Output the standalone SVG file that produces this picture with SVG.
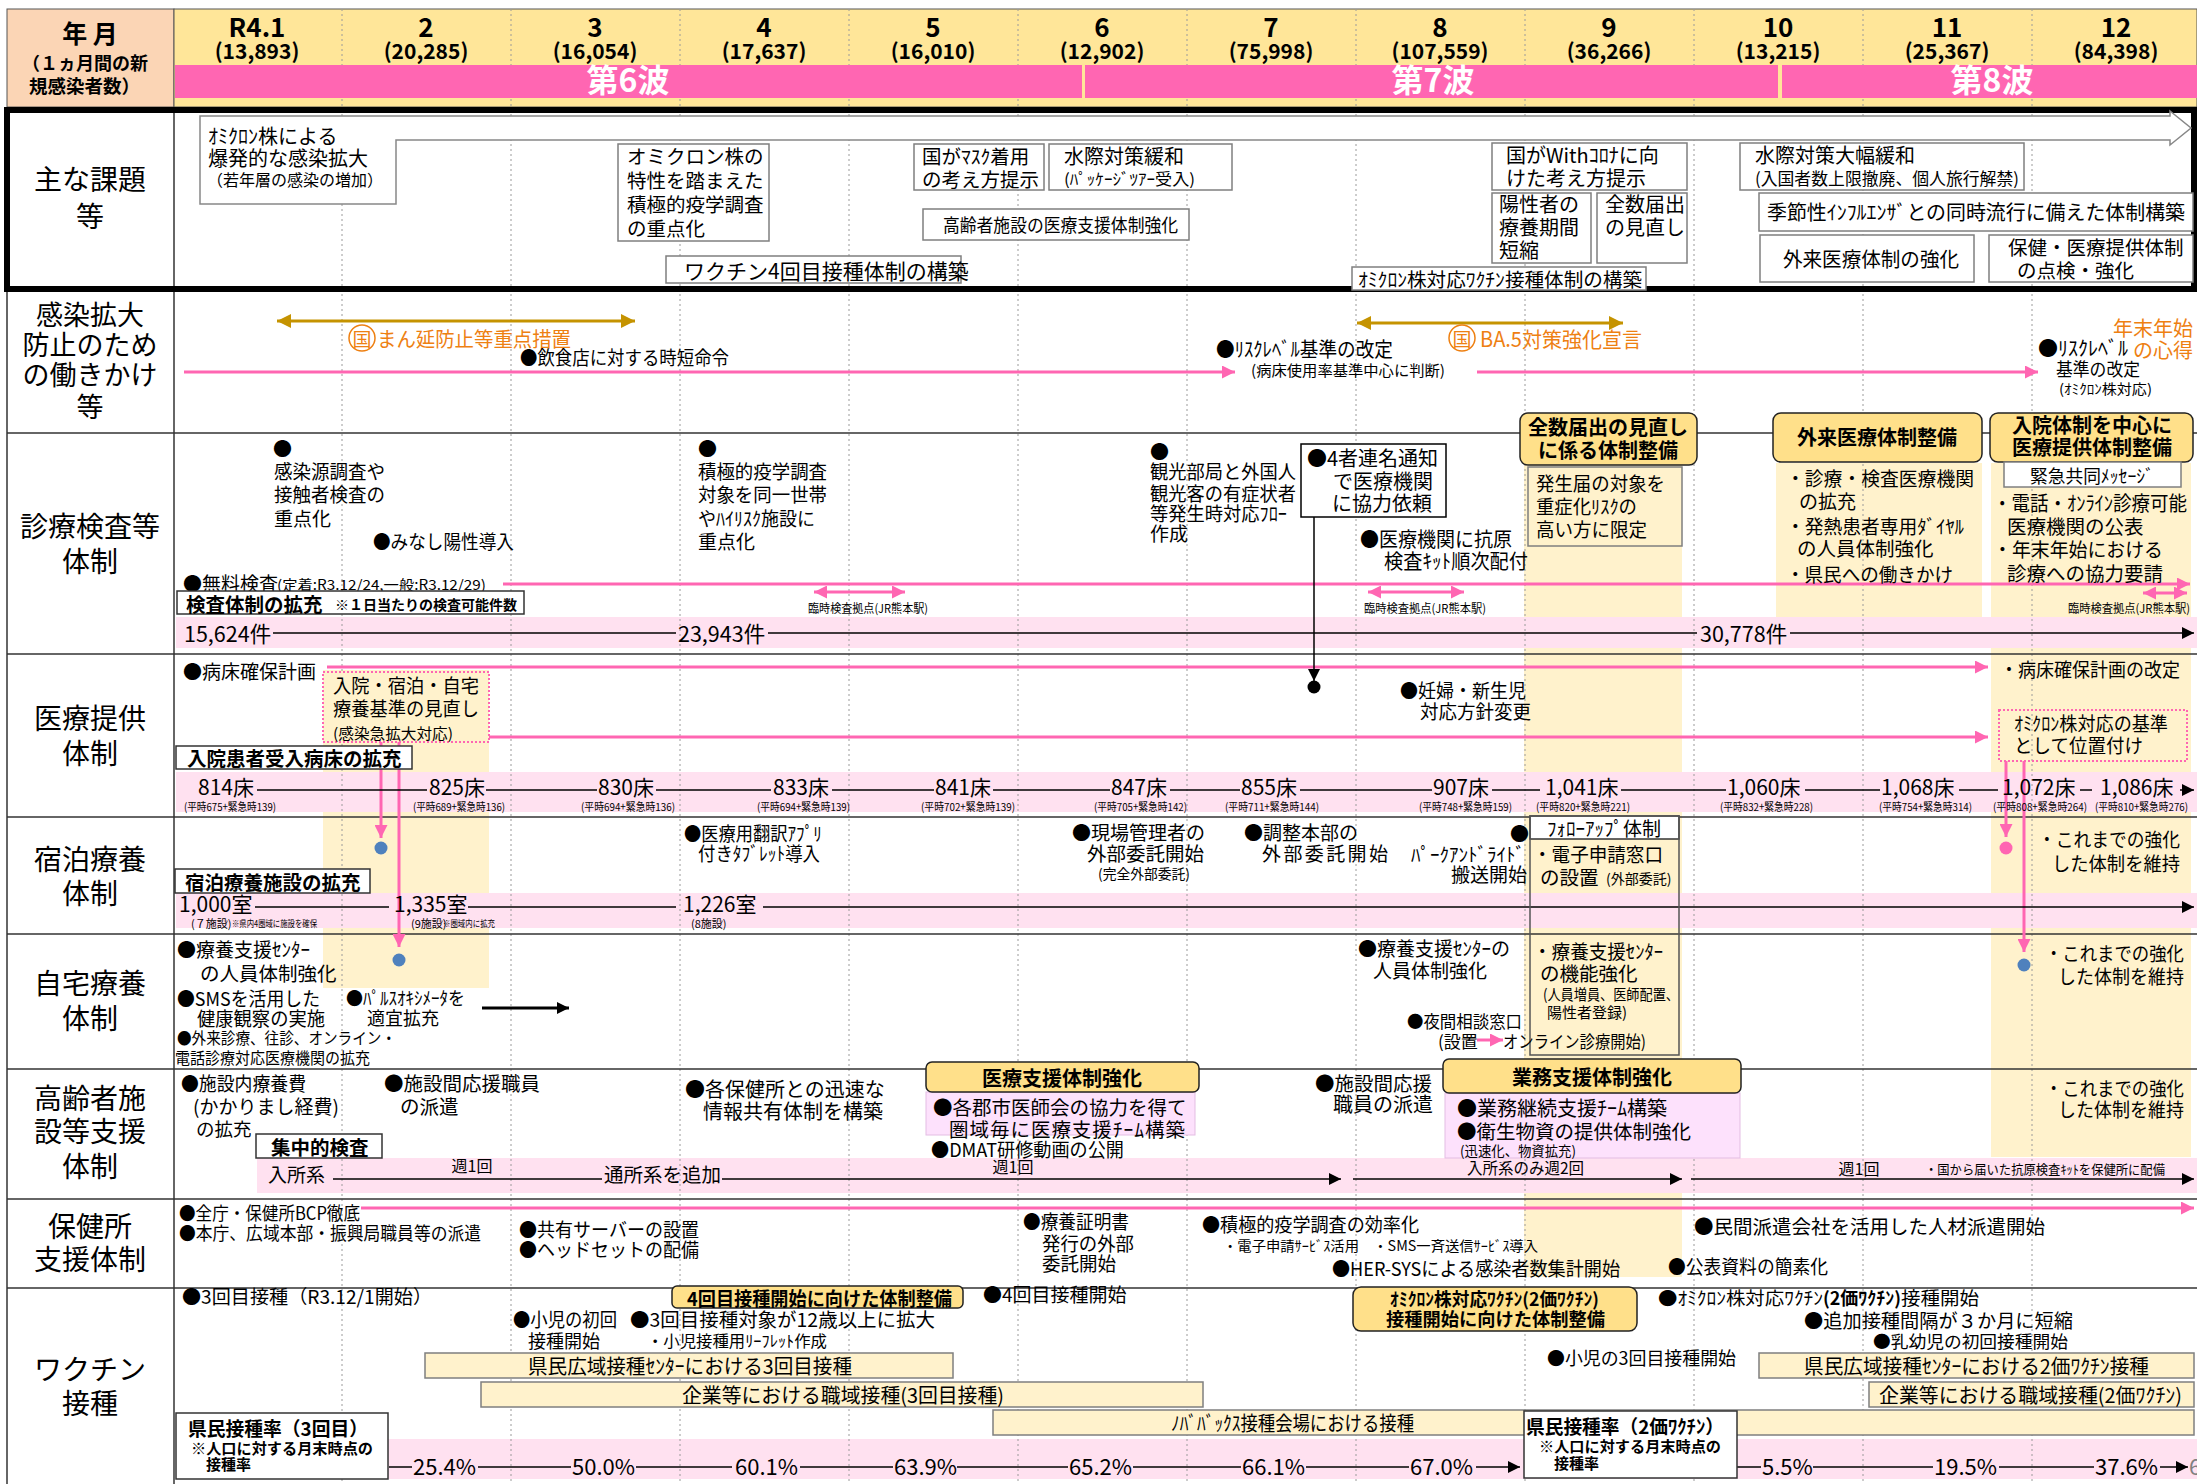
<svg xmlns="http://www.w3.org/2000/svg" width="2197" height="1484" viewBox="0 0 2197 1484">
<style>
text{font-family:"Noto Sans CJK JP","Noto Sans",sans-serif;dominant-baseline:central;fill:#000}
.b{font-weight:bold}
.lbl{font-size:28px;text-anchor:middle}
.mo{font-size:26px;font-weight:bold;text-anchor:middle}
.cnt{font-size:21px;font-weight:bold;text-anchor:middle}
.wave{font-size:32px;font-weight:bold;fill:#fff;text-anchor:middle}
.m{text-anchor:middle}
.e{text-anchor:end}
.box{fill:#fff;stroke:#7f7f7f;stroke-width:1.5}
.kbox{fill:#fff;stroke:#333;stroke-width:1.5}
.gold{fill:#FFE08A;stroke:#222;stroke-width:1.5}
.yb{fill:#FFF2CC}
.pb{fill:#FFE1F0}
.pl{stroke:#FF66B2;stroke-width:3;fill:none}
.bl{stroke:#000;stroke-width:1.5;fill:none}
.or{fill:#EE8012}
.vbox{fill:#FFF2CC;stroke:#7f7f7f;stroke-width:1.5}
.lav{fill:#FDE1FC;stroke:#e3bde3;stroke-width:1}
.row{stroke:#333;stroke-width:1.5}
.dot{stroke:#9a9a9a;stroke-width:1;stroke-dasharray:2 3}
.pdot{fill:none;stroke:#FF66B2;stroke-width:2;stroke-dasharray:2 2}
</style>
<defs>
<marker id="ap" viewBox="0 0 10 10" refX="10" refY="5" markerWidth="13" markerHeight="13" markerUnits="userSpaceOnUse" orient="auto-start-reverse"><path d="M0,0L10,5L0,10z" fill="#FF66B2"/></marker>
<marker id="ab" viewBox="0 0 10 10" refX="10" refY="5" markerWidth="12" markerHeight="12" markerUnits="userSpaceOnUse" orient="auto-start-reverse"><path d="M0,0L10,5L0,10z" fill="#000"/></marker>
<marker id="ag" viewBox="0 0 10 10" refX="10" refY="5" markerWidth="14" markerHeight="14" markerUnits="userSpaceOnUse" orient="auto-start-reverse"><path d="M0,0L10,5L0,10z" fill="#C59300"/></marker>
</defs>
<rect x="0" y="0" width="2197" height="1484" fill="#fff"/>

<g id="header">
<rect x="7" y="9" width="167" height="98" fill="#FBD5B5" stroke="#555" stroke-width="1"/>
<rect x="174" y="9" width="2023" height="98" fill="#FFE699" stroke="#555" stroke-width="1"/>
<text x="90" y="32" class="b m" font-size="25">年 月</text>
<text x="22" y="62" class="b" font-size="18">（１ヵ月間の新</text>
<text x="29" y="85" class="b" font-size="18.5">規感染者数）</text>
</g>

<rect x="7" y="110" width="2187" height="179" fill="#fff"/>

<g id="bands">
<rect class="yb" x="323" y="670" width="166" height="318"/>
<rect class="yb" x="1524" y="463" width="158" height="814"/>
<rect class="yb" x="1776" y="463" width="206" height="185"/>
<rect class="yb" x="1991" y="463" width="200" height="694"/>
<rect class="pb" x="176" y="617" width="2021" height="31"/>
<rect class="pb" x="176" y="772" width="2021" height="40"/>
<rect class="pb" x="176" y="893" width="2021" height="35"/>
<rect class="pb" x="257" y="1158" width="1940" height="35"/>
<rect class="pb" x="388" y="1439" width="1809" height="40"/>
</g>

<g id="grid">
<g class="dot">
<line x1="342" y1="9" x2="342" y2="1484"/><line x1="511" y1="9" x2="511" y2="1484"/><line x1="680" y1="9" x2="680" y2="1484"/><line x1="849" y1="9" x2="849" y2="1484"/><line x1="1018" y1="9" x2="1018" y2="1484"/><line x1="1187" y1="9" x2="1187" y2="1484"/><line x1="1356" y1="9" x2="1356" y2="1484"/><line x1="1525" y1="9" x2="1525" y2="1484"/><line x1="1694" y1="9" x2="1694" y2="1484"/><line x1="1863" y1="9" x2="1863" y2="1484"/><line x1="2032" y1="9" x2="2032" y2="1484"/>
</g>
<rect x="175" y="65" width="907" height="33" fill="#FF66B2"/>
<rect x="1085" y="65" width="693" height="33" fill="#FF66B2"/>
<rect x="1782" y="65" width="415" height="33" fill="#FF66B2"/>
<g class="row">
<line x1="7" y1="433" x2="2197" y2="433"/><line x1="7" y1="654" x2="2197" y2="654"/><line x1="7" y1="817" x2="2197" y2="817"/><line x1="7" y1="934" x2="2197" y2="934"/><line x1="7" y1="1069" x2="2197" y2="1069"/><line x1="7" y1="1199" x2="2197" y2="1199"/><line x1="7" y1="1288" x2="2197" y2="1288"/>
<line x1="174" y1="107" x2="174" y2="1484"/><line x1="7" y1="289" x2="7" y2="1484"/>
</g>
<rect x="7" y="110" width="2187" height="179" fill="none" stroke="#000" stroke-width="6"/>
</g>

<g id="months">
<text x="257" y="25" class="mo">R4.1</text><text x="257" y="50" class="cnt">(13,893)</text>
<text x="426" y="25" class="mo">2</text><text x="426" y="50" class="cnt">(20,285)</text>
<text x="595" y="25" class="mo">3</text><text x="595" y="50" class="cnt">(16,054)</text>
<text x="764" y="25" class="mo">4</text><text x="764" y="50" class="cnt">(17,637)</text>
<text x="933" y="25" class="mo">5</text><text x="933" y="50" class="cnt">(16,010)</text>
<text x="1102" y="25" class="mo">6</text><text x="1102" y="50" class="cnt">(12,902)</text>
<text x="1271" y="25" class="mo">7</text><text x="1271" y="50" class="cnt">(75,998)</text>
<text x="1440" y="25" class="mo">8</text><text x="1440" y="50" class="cnt">(107,559)</text>
<text x="1609" y="25" class="mo">9</text><text x="1609" y="50" class="cnt">(36,266)</text>
<text x="1778" y="25" class="mo">10</text><text x="1778" y="50" class="cnt">(13,215)</text>
<text x="1947" y="25" class="mo">11</text><text x="1947" y="50" class="cnt">(25,367)</text>
<text x="2116" y="25" class="mo">12</text><text x="2116" y="50" class="cnt">(84,398)</text>
<text x="628" y="78" class="wave">第6波</text>
<text x="1433" y="78" class="wave">第7波</text>
<text x="1992" y="78" class="wave">第8波</text>
</g>

<g id="row-labels">
<text x="90" y="178" class="lbl">主な課題</text><text x="90" y="215" class="lbl">等</text>
<text x="90" y="313" class="lbl" style="font-size:27px">感染拡大</text><text x="90" y="343" class="lbl" style="font-size:27px">防止のため</text><text x="90" y="373" class="lbl" style="font-size:27px">の働きかけ</text><text x="90" y="405" class="lbl" style="font-size:27px">等</text>
<text x="90" y="525" class="lbl">診療検査等</text><text x="90" y="560" class="lbl">体制</text>
<text x="90" y="717" class="lbl">医療提供</text><text x="90" y="752" class="lbl">体制</text>
<text x="90" y="858" class="lbl">宿泊療養</text><text x="90" y="892" class="lbl">体制</text>
<text x="90" y="982" class="lbl">自宅療養</text><text x="90" y="1017" class="lbl">体制</text>
<text x="90" y="1097" class="lbl">高齢者施</text><text x="90" y="1130" class="lbl">設等支援</text><text x="90" y="1165" class="lbl">体制</text>
<text x="90" y="1225" class="lbl">保健所</text><text x="90" y="1258" class="lbl">支援体制</text>
<text x="90" y="1368" class="lbl">ワクチン</text><text x="90" y="1402" class="lbl">接種</text>
</g>

<g id="n-kadai-arrow">
<polygon points="200,116 2170,116 2170,111 2191,128 2170,145 2170,140 396,140 396,204 200,204" fill="#fff" stroke="#888" stroke-width="1.5"/>
<text x="208" y="135" font-size="20">ｵﾐｸﾛﾝ株による</text>
<text x="208" y="157" font-size="20">爆発的な感染拡大</text>
<text x="207" y="179" font-size="16">（若年層の感染の増加）</text>
</g>
<g id="n-kadai-omicron">
<rect class="box" x="618" y="144" width="151" height="97"/>
<text x="627" y="155" font-size="19.5">オミクロン株の</text>
<text x="627" y="179" font-size="19.5">特性を踏まえた</text>
<text x="627" y="203" font-size="19.5">積極的疫学調査</text>
<text x="627" y="227" font-size="19.5">の重点化</text>
</g>
<g id="n-kadai-vac4">
<rect class="box" x="666" y="256" width="295" height="27"/>
<text x="684" y="270" font-size="21">ワクチン4回目接種体制の構築</text>
</g>
<g id="n-kadai-mask">
<rect class="box" x="914" y="144" width="130" height="46"/>
<text x="922" y="155" font-size="19.5">国がﾏｽｸ着用</text>
<text x="922" y="178" font-size="19.5">の考え方提示</text>
</g>
<g id="n-kadai-border1">
<rect class="box" x="1049" y="144" width="183" height="46"/>
<text x="1064" y="155" font-size="20">水際対策緩和</text>
<text x="1064" y="178" font-size="16" textLength="131" lengthAdjust="spacingAndGlyphs">(ﾊﾟｯｹｰｼﾞﾂｱｰ受入)</text>
</g>
<g id="n-kadai-elderly">
<rect class="box" x="923" y="209" width="266" height="31"/>
<text x="943" y="224" font-size="18" textLength="235" lengthAdjust="spacingAndGlyphs">高齢者施設の医療支援体制強化</text>
</g>
<g id="n-kadai-omivac">
<rect class="box" x="1352" y="267" width="294" height="23"/>
<text x="1358" y="278" font-size="19" textLength="284" lengthAdjust="spacingAndGlyphs">ｵﾐｸﾛﾝ株対応ﾜｸﾁﾝ接種体制の構築</text>
</g>
<g id="n-kadai-with">
<rect class="box" x="1492" y="143" width="195" height="47"/>
<text x="1506" y="154" font-size="20">国がWithｺﾛﾅに向</text>
<text x="1506" y="177" font-size="20">けた考え方提示</text>
</g>
<g id="n-kadai-short">
<rect class="box" x="1492" y="193" width="99" height="70"/>
<text x="1499" y="203" font-size="20">陽性者の</text>
<text x="1499" y="226" font-size="20">療養期間</text>
<text x="1499" y="249" font-size="20">短縮</text>
</g>
<g id="n-kadai-zensu">
<rect class="box" x="1597" y="193" width="90" height="70"/>
<text x="1605" y="203" font-size="20">全数届出</text>
<text x="1605" y="226" font-size="20">の見直し</text>
</g>
<g id="n-kadai-border2">
<rect class="box" x="1740" y="143" width="284" height="47"/>
<text x="1755" y="154" font-size="20">水際対策大幅緩和</text>
<text x="1755" y="177" font-size="17" textLength="264" lengthAdjust="spacingAndGlyphs">(入国者数上限撤廃、個人旅行解禁)</text>
</g>
<g id="n-kadai-flu">
<rect class="box" x="1759" y="193" width="434" height="38"/>
<text x="1767" y="211" font-size="20" textLength="418" lengthAdjust="spacingAndGlyphs">季節性ｲﾝﾌﾙｴﾝｻﾞとの同時流行に備えた体制構築</text>
</g>
<g id="n-kadai-gairai">
<rect class="box" x="1760" y="235" width="214" height="47"/>
<text x="1783" y="258" font-size="20" textLength="176" lengthAdjust="spacingAndGlyphs">外来医療体制の強化</text>
</g>
<g id="n-kadai-check">
<rect class="box" x="1989" y="235" width="204" height="47"/>
<text x="2008" y="246" font-size="19.5">保健・医療提供体制</text>
<text x="2017" y="269" font-size="19.5">の点検・強化</text>
</g>

<g id="connectors">
<line x1="277" y1="321" x2="635" y2="321" stroke="#C59300" stroke-width="3" marker-start="url(#ag)" marker-end="url(#ag)"/>
<line x1="1357" y1="323" x2="1623" y2="323" stroke="#C59300" stroke-width="3" marker-start="url(#ag)" marker-end="url(#ag)"/>
<line class="pl" x1="184" y1="372" x2="1235" y2="372" marker-end="url(#ap)"/>
<line class="pl" x1="1477" y1="372" x2="2038" y2="372" marker-end="url(#ap)"/>
<line class="pl" x1="503" y1="584" x2="2190" y2="584" marker-end="url(#ap)"/>
<line class="pl" x1="814" y1="592" x2="905" y2="592" marker-start="url(#ap)" marker-end="url(#ap)"/>
<line class="pl" x1="1368" y1="592" x2="1464" y2="592" marker-start="url(#ap)" marker-end="url(#ap)"/>
<line class="pl" x1="2143" y1="593" x2="2187" y2="593" marker-start="url(#ap)" marker-end="url(#ap)"/>
<line class="bl" x1="273" y1="633" x2="676" y2="633"/>
<line class="bl" x1="768" y1="633" x2="1697" y2="633"/>
<line class="bl" x1="1790" y1="633" x2="2194" y2="633" marker-end="url(#ab)"/>
<line class="pl" x1="327" y1="667" x2="1988" y2="667" marker-end="url(#ap)"/>
<line class="pl" x1="487" y1="737" x2="1988" y2="737" marker-end="url(#ap)"/>
<line class="bl" x1="1314" y1="517" x2="1314" y2="681" marker-end="url(#ab)"/>
<circle cx="1314" cy="687" r="6.5" fill="#000"/>
<line class="pl" x1="381" y1="742" x2="381" y2="838" marker-end="url(#ap)"/>
<circle cx="381" cy="848" r="6.5" fill="#4F81BD"/>
<line class="pl" x1="399" y1="742" x2="399" y2="947" marker-end="url(#ap)"/>
<circle cx="399" cy="960" r="6.5" fill="#4F81BD"/>
<line class="pl" x1="2006" y1="761" x2="2006" y2="837" marker-end="url(#ap)"/>
<circle cx="2006" cy="848" r="6.5" fill="#FF66B2"/>
<line class="pl" x1="2024" y1="761" x2="2024" y2="952" marker-end="url(#ap)"/>
<circle cx="2024" cy="965" r="6.5" fill="#4F81BD"/>
<line class="bl" x1="257" y1="790" x2="427" y2="790"/>
<line class="bl" x1="486" y1="790" x2="597" y2="790"/>
<line class="bl" x1="656" y1="790" x2="771" y2="790"/>
<line class="bl" x1="832" y1="790" x2="934" y2="790"/>
<line class="bl" x1="993" y1="790" x2="1110" y2="790"/>
<line class="bl" x1="1170" y1="790" x2="1240" y2="790"/>
<line class="bl" x1="1300" y1="790" x2="1432" y2="790"/>
<line class="bl" x1="1492" y1="790" x2="1540" y2="790"/>
<line class="bl" x1="1621" y1="790" x2="1726" y2="790"/>
<line class="bl" x1="1805" y1="790" x2="1880" y2="790"/>
<line class="bl" x1="1959" y1="790" x2="1998" y2="790"/>
<line class="bl" x1="2080" y1="790" x2="2092" y2="790"/>
<line class="bl" x1="2180" y1="790" x2="2194" y2="790" marker-end="url(#ab)"/>
<line class="bl" x1="255" y1="907" x2="389" y2="907"/>
<line class="bl" x1="468" y1="907" x2="676" y2="907"/>
<line class="bl" x1="763" y1="907" x2="2194" y2="907" marker-end="url(#ab)"/>
<line stroke="#000" stroke-width="3" x1="482" y1="1008" x2="569" y2="1008" marker-end="url(#ab)"/>
<line class="pl" x1="1477" y1="1040" x2="1503" y2="1040" marker-end="url(#ap)"/>
<line class="bl" x1="333" y1="1179" x2="602" y2="1179"/>
<line class="bl" x1="722" y1="1179" x2="1341" y2="1179" stroke-width="2.5" marker-end="url(#ab)"/>
<line class="bl" x1="1353" y1="1179" x2="1682" y2="1179" stroke-width="2.5" marker-end="url(#ab)"/>
<line class="bl" x1="1691" y1="1179" x2="2194" y2="1179" stroke-width="2.5" marker-end="url(#ab)"/>
<line class="pl" x1="361" y1="1208" x2="2194" y2="1208" marker-end="url(#ap)"/>
<line class="bl" x1="389" y1="1467" x2="412" y2="1467"/>
<line class="bl" x1="478" y1="1467" x2="571" y2="1467"/>
<line class="bl" x1="636" y1="1467" x2="732" y2="1467"/>
<line class="bl" x1="800" y1="1467" x2="893" y2="1467"/>
<line class="bl" x1="957" y1="1467" x2="1068" y2="1467"/>
<line class="bl" x1="1133" y1="1467" x2="1241" y2="1467"/>
<line class="bl" x1="1306" y1="1467" x2="1409" y2="1467"/>
<line class="bl" x1="1476" y1="1467" x2="1520" y2="1467" marker-end="url(#ab)"/>
<line class="bl" x1="1737" y1="1467" x2="1761" y2="1467"/>
<line class="bl" x1="1813" y1="1467" x2="1933" y2="1467"/>
<line class="bl" x1="1999" y1="1467" x2="2094" y2="1467"/>
<line class="bl" x1="2160" y1="1467" x2="2188" y2="1467" marker-end="url(#ab)"/>
</g>

<g id="n-kansen">
<circle cx="362" cy="338" r="13" fill="none" stroke="#EE8012" stroke-width="1.5"/>
<text x="362" y="338" class="or m" font-size="19">国</text>
<text x="377" y="338" class="or" font-size="20" textLength="194" lengthAdjust="spacingAndGlyphs">まん延防止等重点措置</text>
<text x="520" y="356" font-size="19" textLength="209" lengthAdjust="spacingAndGlyphs">●飲食店に対する時短命令</text>
<text x="1216" y="348" font-size="20" textLength="177" lengthAdjust="spacingAndGlyphs">●ﾘｽｸﾚﾍﾞﾙ基準の改定</text>
<text x="1251" y="369" font-size="15" textLength="194" lengthAdjust="spacingAndGlyphs">(病床使用率基準中心に判断)</text>
<circle cx="1462" cy="338" r="13" fill="none" stroke="#EE8012" stroke-width="1.5"/>
<text x="1462" y="338" class="or m" font-size="19">国</text>
<text x="1480" y="338" class="or" font-size="21" textLength="162" lengthAdjust="spacingAndGlyphs">BA.5対策強化宣言</text>
<text x="2193" y="327" class="or e" font-size="20">年末年始</text>
<text x="2193" y="349" class="or e" font-size="20">の心得</text>
<text x="2038" y="347" font-size="20">●ﾘｽｸﾚﾍﾞﾙ</text>
<text x="2056" y="368" font-size="18" textLength="84" lengthAdjust="spacingAndGlyphs">基準の改定</text>
<text x="2059" y="388" font-size="14" textLength="93" lengthAdjust="spacingAndGlyphs">(ｵﾐｸﾛﾝ株対応)</text>
</g>

<g id="n-shinryo-heads">
<rect class="gold" x="1520" y="413" width="177" height="52" rx="8"/>
<text x="1608" y="426" class="b m" font-size="20">全数届出の見直し</text>
<text x="1608" y="449" class="b m" font-size="20">に係る体制整備</text>
<rect class="gold" x="1773" y="413" width="209" height="49" rx="8"/>
<text x="1877" y="436" class="b m" font-size="20">外来医療体制整備</text>
<rect class="gold" x="1990" y="413" width="203" height="49" rx="8"/>
<text x="2092" y="424" class="b m" font-size="20">入院体制を中心に</text>
<text x="2092" y="446" class="b m" font-size="20">医療提供体制整備</text>
</g>
<g id="n-shinryo-1">
<text x="273" y="447" font-size="19">●</text>
<text x="274" y="470" font-size="19" textLength="111" lengthAdjust="spacingAndGlyphs">感染源調査や</text>
<text x="274" y="493" font-size="19" textLength="111" lengthAdjust="spacingAndGlyphs">接触者検査の</text>
<text x="274" y="517" font-size="19">重点化</text>
<text x="373" y="540" font-size="19" textLength="141" lengthAdjust="spacingAndGlyphs">●みなし陽性導入</text>
</g>
<g id="n-shinryo-2">
<text x="698" y="447" font-size="19">●</text>
<text x="698" y="470" font-size="19" textLength="129" lengthAdjust="spacingAndGlyphs">積極的疫学調査</text>
<text x="698" y="493" font-size="19" textLength="129" lengthAdjust="spacingAndGlyphs">対象を同一世帯</text>
<text x="698" y="517" font-size="19" textLength="117" lengthAdjust="spacingAndGlyphs">やﾊｲﾘｽｸ施設に</text>
<text x="698" y="540" font-size="19">重点化</text>
</g>
<g id="n-shinryo-3">
<text x="1150" y="450" font-size="19">●</text>
<text x="1150" y="470" font-size="19" textLength="146" lengthAdjust="spacingAndGlyphs">観光部局と外国人</text>
<text x="1150" y="492" font-size="19" textLength="146" lengthAdjust="spacingAndGlyphs">観光客の有症状者</text>
<text x="1150" y="512" font-size="19" textLength="137" lengthAdjust="spacingAndGlyphs">等発生時対応ﾌﾛｰ</text>
<text x="1150" y="532" font-size="19">作成</text>
</g>
<g id="n-shinryo-4sha">
<rect x="1301" y="444" width="145" height="73" fill="#fff" stroke="#000" stroke-width="1.5"/>
<text x="1307" y="457" font-size="20">●4者連名通知</text>
<text x="1333" y="480" font-size="20">で医療機関</text>
<text x="1332" y="502" font-size="20">に協力依頼</text>
</g>
<g id="n-shinryo-kit">
<text x="1360" y="538" font-size="20" textLength="152" lengthAdjust="spacingAndGlyphs">●医療機関に抗原</text>
<text x="1384" y="560" font-size="20" textLength="144" lengthAdjust="spacingAndGlyphs">検査ｷｯﾄ順次配付</text>
</g>
<g id="n-shinryo-hassei">
<rect x="1528" y="467" width="154" height="79" fill="none" stroke="#7f7f7f" stroke-width="1.5"/>
<text x="1536" y="482" font-size="19" textLength="129" lengthAdjust="spacingAndGlyphs">発生届の対象を</text>
<text x="1536" y="505" font-size="19" textLength="101" lengthAdjust="spacingAndGlyphs">重症化ﾘｽｸの</text>
<text x="1536" y="528" font-size="19" textLength="111" lengthAdjust="spacingAndGlyphs">高い方に限定</text>
</g>
<g id="n-shinryo-gairai">
<text x="1786" y="477" font-size="19" textLength="188" lengthAdjust="spacingAndGlyphs">・診療・検査医療機関</text>
<text x="1799" y="500" font-size="19">の拡充</text>
<text x="1786" y="525" font-size="19" textLength="178" lengthAdjust="spacingAndGlyphs">・発熱患者専用ﾀﾞｲﾔﾙ</text>
<text x="1797" y="547" font-size="19.5">の人員体制強化</text>
<text x="1786" y="573" font-size="19" textLength="167" lengthAdjust="spacingAndGlyphs">・県民への働きかけ</text>
</g>
<g id="n-shinryo-dec">
<rect class="box" x="2004" y="462" width="177" height="25"/>
<text x="2030" y="475" font-size="18" textLength="124" lengthAdjust="spacingAndGlyphs">緊急共同ﾒｯｾｰｼﾞ</text>
<text x="1993" y="502" font-size="20" textLength="194" lengthAdjust="spacingAndGlyphs">・電話・ｵﾝﾗｲﾝ診療可能</text>
<text x="2007" y="525" font-size="19.5">医療機関の公表</text>
<text x="1993" y="548" font-size="19.5" textLength="170" lengthAdjust="spacingAndGlyphs">・年末年始における</text>
<text x="2007" y="572" font-size="19.5">診療への協力要請</text>
</g>
<g id="n-shinryo-kensa">
<text x="183" y="582" font-size="19">●無料検査</text>
<text x="277" y="584" font-size="14" textLength="209" lengthAdjust="spacingAndGlyphs">(定着:R3.12/24,一般:R3.12/29)</text>
<text x="808" y="607" font-size="12" textLength="120" lengthAdjust="spacingAndGlyphs">臨時検査拠点(JR熊本駅)</text>
<text x="1364" y="607" font-size="12" textLength="122" lengthAdjust="spacingAndGlyphs">臨時検査拠点(JR熊本駅)</text>
<text x="2068" y="607" font-size="12" textLength="122" lengthAdjust="spacingAndGlyphs">臨時検査拠点(JR熊本駅)</text>
<rect class="kbox" x="177" y="591" width="347" height="23"/>
<text x="186" y="603" class="b" font-size="19.5">検査体制の拡充</text>
<text x="335" y="604" class="b" font-size="14">※１日当たりの検査可能件数</text>
<text x="184" y="632" font-size="21.5">15,624件</text>
<text x="678" y="632" font-size="21.5">23,943件</text>
<text x="1700" y="632" font-size="21.5">30,778件</text>
</g>

<g id="n-iryo">
<text x="183" y="670" font-size="19">●病床確保計画</text>
<rect x="323" y="672" width="166" height="70" fill="#FFF2CC"/>
<rect x="323" y="672" width="166" height="70" class="pdot"/>
<text x="333" y="684" font-size="19" textLength="146" lengthAdjust="spacingAndGlyphs">入院・宿泊・自宅</text>
<text x="333" y="707" font-size="19" textLength="146" lengthAdjust="spacingAndGlyphs">療養基準の見直し</text>
<text x="333" y="732" font-size="15" textLength="120" lengthAdjust="spacingAndGlyphs">(感染急拡大対応)</text>
<text x="1400" y="689" font-size="19" textLength="126" lengthAdjust="spacingAndGlyphs">●妊婦・新生児</text>
<text x="1420" y="710" font-size="19" textLength="111" lengthAdjust="spacingAndGlyphs">対応方針変更</text>
<text x="2000" y="668" font-size="19" textLength="180" lengthAdjust="spacingAndGlyphs">・病床確保計画の改定</text>
<rect x="1999" y="710" width="188" height="51" class="pdot"/>
<text x="2014" y="722" font-size="19" textLength="154" lengthAdjust="spacingAndGlyphs">ｵﾐｸﾛﾝ株対応の基準</text>
<text x="2014" y="744" font-size="19" textLength="129" lengthAdjust="spacingAndGlyphs">として位置付け</text>
<rect class="kbox" x="176" y="746" width="236" height="23"/>
<text x="187" y="757" class="b" font-size="19.5">入院患者受入病床の拡充</text>
</g>
<g id="n-beds">
<text x="198" y="786" font-size="21">814床</text><text x="184" y="806" font-size="11" textLength="92" lengthAdjust="spacingAndGlyphs">(平時675+緊急時139)</text>
<text x="429" y="786" font-size="21">825床</text><text x="413" y="806" font-size="11" textLength="92" lengthAdjust="spacingAndGlyphs">(平時689+緊急時136)</text>
<text x="598" y="786" font-size="21">830床</text><text x="581" y="806" font-size="11" textLength="94" lengthAdjust="spacingAndGlyphs">(平時694+緊急時136)</text>
<text x="773" y="786" font-size="21">833床</text><text x="757" y="806" font-size="11" textLength="93" lengthAdjust="spacingAndGlyphs">(平時694+緊急時139)</text>
<text x="935" y="786" font-size="21">841床</text><text x="921" y="806" font-size="11" textLength="94" lengthAdjust="spacingAndGlyphs">(平時702+緊急時139)</text>
<text x="1111" y="786" font-size="21">847床</text><text x="1094" y="806" font-size="11" textLength="93" lengthAdjust="spacingAndGlyphs">(平時705+緊急時142)</text>
<text x="1241" y="786" font-size="21">855床</text><text x="1225" y="806" font-size="11" textLength="94" lengthAdjust="spacingAndGlyphs">(平時711+緊急時144)</text>
<text x="1433" y="786" font-size="21">907床</text><text x="1419" y="806" font-size="11" textLength="93" lengthAdjust="spacingAndGlyphs">(平時748+緊急時159)</text>
<text x="1545" y="786" font-size="21">1,041床</text><text x="1536" y="806" font-size="11" textLength="94" lengthAdjust="spacingAndGlyphs">(平時820+緊急時221)</text>
<text x="1727" y="786" font-size="21">1,060床</text><text x="1720" y="806" font-size="11" textLength="93" lengthAdjust="spacingAndGlyphs">(平時832+緊急時228)</text>
<text x="1881" y="786" font-size="21">1,068床</text><text x="1879" y="806" font-size="11" textLength="93" lengthAdjust="spacingAndGlyphs">(平時754+緊急時314)</text>
<text x="2002" y="786" font-size="21">1,072床</text><text x="1993" y="806" font-size="11" textLength="94" lengthAdjust="spacingAndGlyphs">(平時808+緊急時264)</text>
<text x="2100" y="786" font-size="21">1,086床</text><text x="2095" y="806" font-size="11" textLength="93" lengthAdjust="spacingAndGlyphs">(平時810+緊急時276)</text>
</g>

<g id="n-shukuhaku">
<text x="684" y="832" font-size="19" textLength="138" lengthAdjust="spacingAndGlyphs">●医療用翻訳ｱﾌﾟﾘ</text>
<text x="698" y="852" font-size="19" textLength="122" lengthAdjust="spacingAndGlyphs">付きﾀﾌﾞﾚｯﾄ導入</text>
<text x="1072" y="831" font-size="19">●現場管理者の</text>
<text x="1087" y="852" font-size="19.5">外部委託開始</text>
<text x="1098" y="873" font-size="14" textLength="92" lengthAdjust="spacingAndGlyphs">(完全外部委託)</text>
<text x="1244" y="831" font-size="19">●調整本部の</text>
<text x="1262" y="852" font-size="19" textLength="126" lengthAdjust="spacing">外部委託開始</text>
<text x="1510" y="832" font-size="19">●</text>
<text x="1525" y="853" class="e" font-size="19">ﾊﾟｰｸｱﾝﾄﾞﾗｲﾄﾞ</text>
<text x="1527" y="873" class="e" font-size="19">搬送開始</text>
<text x="2038" y="838" font-size="19" textLength="142" lengthAdjust="spacingAndGlyphs">・これまでの強化</text>
<text x="2052" y="862" font-size="19" textLength="128" lengthAdjust="spacingAndGlyphs">した体制を維持</text>
<rect class="kbox" x="175" y="869" width="195" height="24"/>
<text x="185" y="881" class="b" font-size="19.5">宿泊療養施設の拡充</text>
<text x="179" y="903" font-size="21">1,000室</text>
<text x="191" y="923" font-size="11">(７施設)</text>
<text x="232" y="923" font-size="9" textLength="85" lengthAdjust="spacingAndGlyphs">※県内4圏域に施設を確保</text>
<text x="394" y="903" font-size="21">1,335室</text>
<text x="411" y="923" font-size="11">(9施設)</text>
<text x="443" y="923" font-size="9" textLength="52" lengthAdjust="spacingAndGlyphs">※圏域内に拡充</text>
<text x="683" y="903" font-size="21">1,226室</text>
<text x="691" y="923" font-size="11">(8施設)</text>
</g>
<g id="n-followup">
<rect class="kbox" x="1530" y="816" width="149" height="23"/>
<rect x="1530" y="816" width="149" height="239" fill="none" stroke="#555" stroke-width="1.5"/>
<text x="1604" y="827" class="m" font-size="19">ﾌｫﾛｰｱｯﾌﾟ体制</text>
<text x="1533" y="853" font-size="19" textLength="130" lengthAdjust="spacingAndGlyphs">・電子申請窓口</text>
<text x="1540" y="876" font-size="19.5">の設置</text>
<text x="1606" y="878" font-size="14">(外部委託)</text>
<text x="1533" y="950" font-size="19" textLength="130" lengthAdjust="spacingAndGlyphs">・療養支援ｾﾝﾀｰ</text>
<text x="1540" y="972" font-size="19.5">の機能強化</text>
<text x="1543" y="993" font-size="15" textLength="136" lengthAdjust="spacingAndGlyphs">(人員増員、医師配置、</text>
<text x="1547" y="1011" font-size="15">陽性者登録)</text>
</g>

<g id="n-jitaku">
<text x="177" y="948" font-size="19">●療養支援ｾﾝﾀｰ</text>
<text x="200" y="972" font-size="19.5">の人員体制強化</text>
<text x="177" y="997" font-size="19" textLength="143" lengthAdjust="spacingAndGlyphs">●SMSを活用した</text>
<text x="197" y="1017" font-size="19" textLength="128" lengthAdjust="spacingAndGlyphs">健康観察の実施</text>
<text x="346" y="997" font-size="18" textLength="119" lengthAdjust="spacingAndGlyphs">●ﾊﾟﾙｽｵｷｼﾒｰﾀを</text>
<text x="367" y="1017" font-size="18">適宜拡充</text>
<text x="177" y="1037" font-size="16" textLength="219" lengthAdjust="spacingAndGlyphs">●外来診療、往診、オンライン・</text>
<text x="175" y="1057" font-size="16" textLength="195" lengthAdjust="spacingAndGlyphs">電話診療対応医療機関の拡充</text>
<text x="1358" y="947" font-size="19">●療養支援ｾﾝﾀｰの</text>
<text x="1373" y="969" font-size="19">人員体制強化</text>
<text x="1407" y="1020" font-size="17" textLength="115" lengthAdjust="spacingAndGlyphs">●夜間相談窓口</text>
<text x="1438" y="1040" font-size="17">(設置</text>
<text x="1503" y="1040" font-size="17" textLength="143" lengthAdjust="spacingAndGlyphs">オンライン診療開始)</text>
<text x="2045" y="952" font-size="19" textLength="139" lengthAdjust="spacingAndGlyphs">・これまでの強化</text>
<text x="2058" y="975" font-size="19" textLength="126" lengthAdjust="spacingAndGlyphs">した体制を維持</text>
</g>

<g id="n-koreisha">
<text x="181" y="1082" font-size="19" textLength="125" lengthAdjust="spacingAndGlyphs">●施設内療養費</text>
<text x="193" y="1105" font-size="19">(かかりまし経費)</text>
<text x="196" y="1128" font-size="18.5">の拡充</text>
<text x="384" y="1082" font-size="19.5">●施設間応援職員</text>
<text x="400" y="1105" font-size="19.5">の派遣</text>
<text x="685" y="1088" font-size="20">●各保健所との迅速な</text>
<text x="703" y="1110" font-size="20">情報共有体制を構築</text>
<text x="1315" y="1082" font-size="19.5">●施設間応援</text>
<text x="1333" y="1103" font-size="20">職員の派遣</text>
<text x="2045" y="1087" font-size="19" textLength="139" lengthAdjust="spacingAndGlyphs">・これまでの強化</text>
<text x="2058" y="1108" font-size="19" textLength="126" lengthAdjust="spacingAndGlyphs">した体制を維持</text>
</g>
<g id="n-iryoshien">
<rect class="lav" x="926" y="1092" width="269" height="43"/>
<rect class="gold" x="926" y="1062" width="273" height="30" rx="6"/>
<text x="1062" y="1077" class="b m" font-size="20">医療支援体制強化</text>
<text x="933" y="1106" font-size="19.5">●各郡市医師会の協力を得て</text>
<text x="949" y="1128" font-size="19.5" textLength="236" lengthAdjust="spacing">圏域毎に医療支援ﾁｰﾑ構築</text>
<text x="931" y="1148" font-size="19" textLength="193" lengthAdjust="spacingAndGlyphs">●DMAT研修動画の公開</text>
</g>
<g id="n-gyomushien">
<rect class="lav" x="1445" y="1093" width="295" height="65"/>
<rect class="gold" x="1443" y="1059" width="298" height="34" rx="6"/>
<text x="1592" y="1076" class="b m" font-size="20">業務支援体制強化</text>
<text x="1457" y="1107" font-size="20">●業務継続支援ﾁｰﾑ構築</text>
<text x="1457" y="1130" font-size="19.5">●衛生物資の提供体制強化</text>
<text x="1460" y="1150" font-size="14" textLength="116" lengthAdjust="spacingAndGlyphs">(迅速化、物資拡充)</text>
</g>
<g id="n-shuchu">
<rect class="kbox" x="256" y="1134" width="126" height="24"/>
<text x="271" y="1146" class="b" font-size="19.5">集中的検査</text>
<text x="268" y="1173" font-size="19">入所系</text>
<text x="472" y="1165" class="m" font-size="16">週1回</text>
<text x="604" y="1173" font-size="19.5">通所系を追加</text>
<text x="1013" y="1166" class="m" font-size="16">週1回</text>
<text x="1467" y="1167" font-size="16" textLength="117" lengthAdjust="spacingAndGlyphs">入所系のみ週2回</text>
<text x="1859" y="1168" class="m" font-size="16">週1回</text>
<text x="1925" y="1168" font-size="13" textLength="240" lengthAdjust="spacingAndGlyphs">・国から届いた抗原検査ｷｯﾄを保健所に配備</text>
</g>

<g id="n-hokenjo">
<text x="179" y="1212" font-size="18" textLength="181" lengthAdjust="spacingAndGlyphs">●全庁・保健所BCP徹底</text>
<text x="179" y="1232" font-size="18" textLength="302" lengthAdjust="spacingAndGlyphs">●本庁、広域本部・振興局職員等の派遣</text>
<text x="519" y="1228" font-size="19" textLength="180" lengthAdjust="spacingAndGlyphs">●共有サーバーの設置</text>
<text x="519" y="1248" font-size="19" textLength="180" lengthAdjust="spacingAndGlyphs">●ヘッドセットの配備</text>
<text x="1023" y="1220" font-size="19" textLength="106" lengthAdjust="spacingAndGlyphs">●療養証明書</text>
<text x="1042" y="1242" font-size="19" textLength="92" lengthAdjust="spacingAndGlyphs">発行の外部</text>
<text x="1042" y="1262" font-size="19" textLength="74" lengthAdjust="spacingAndGlyphs">委託開始</text>
<text x="1202" y="1223" font-size="19" textLength="217" lengthAdjust="spacingAndGlyphs">●積極的疫学調査の効率化</text>
<text x="1223" y="1245" font-size="14" textLength="315" lengthAdjust="spacingAndGlyphs">・電子申請ｻｰﾋﾞｽ活用　・SMS一斉送信ｻｰﾋﾞｽ導入</text>
<text x="1332" y="1267" font-size="19" textLength="288" lengthAdjust="spacingAndGlyphs">●HER-SYSによる感染者数集計開始</text>
<text x="1694" y="1225" font-size="19.5">●民間派遣会社を活用した人材派遣開始</text>
<text x="1668" y="1265" font-size="19" textLength="160" lengthAdjust="spacingAndGlyphs">●公表資料の簡素化</text>
</g>

<g id="n-vaccine">
<text x="182" y="1295" font-size="19" textLength="250" lengthAdjust="spacingAndGlyphs">●3回目接種（R3.12/1開始）</text>
<rect class="gold" x="672" y="1286" width="291" height="22" rx="5"/>
<text x="687" y="1297" class="b" font-size="19" textLength="265" lengthAdjust="spacingAndGlyphs">4回目接種開始に向けた体制整備</text>
<text x="983" y="1293" font-size="19">●4回目接種開始</text>
<text x="513" y="1318" font-size="19" textLength="104" lengthAdjust="spacingAndGlyphs">●小児の初回</text>
<text x="528" y="1340" font-size="18">接種開始</text>
<text x="630" y="1318" font-size="19" textLength="305" lengthAdjust="spacingAndGlyphs">●3回目接種対象が12歳以上に拡大</text>
<text x="647" y="1340" font-size="16" textLength="180" lengthAdjust="spacingAndGlyphs">・小児接種用ﾘｰﾌﾚｯﾄ作成</text>
<rect class="vbox" x="425" y="1353" width="528" height="25"/>
<text x="528" y="1365" font-size="20" textLength="324" lengthAdjust="spacingAndGlyphs">県民広域接種ｾﾝﾀｰにおける3回目接種</text>
<rect class="vbox" x="481" y="1382" width="722" height="25"/>
<text x="682" y="1394" font-size="20" textLength="322" lengthAdjust="spacingAndGlyphs">企業等における職域接種(3回目接種)</text>
<rect class="vbox" x="993" y="1410" width="1201" height="25"/>
<text x="1171" y="1422" font-size="20" textLength="243" lengthAdjust="spacingAndGlyphs">ﾉﾊﾞﾊﾞｯｸｽ接種会場における接種</text>
<rect class="gold" x="1353" y="1287" width="284" height="44" rx="8"/>
<text x="1390" y="1298" class="b" font-size="18" textLength="209" lengthAdjust="spacingAndGlyphs">ｵﾐｸﾛﾝ株対応ﾜｸﾁﾝ(2価ﾜｸﾁﾝ)</text>
<text x="1386" y="1318" class="b" font-size="18" textLength="219" lengthAdjust="spacingAndGlyphs">接種開始に向けた体制整備</text>
<text x="1658" y="1297" font-size="18" textLength="165" lengthAdjust="spacingAndGlyphs">●ｵﾐｸﾛﾝ株対応ﾜｸﾁﾝ</text>
<text x="1823" y="1297" class="b" font-size="18" textLength="78" lengthAdjust="spacingAndGlyphs">(2価ﾜｸﾁﾝ)</text>
<text x="1901" y="1297" font-size="18" textLength="78" lengthAdjust="spacingAndGlyphs">接種開始</text>
<text x="1804" y="1319" font-size="19" textLength="269" lengthAdjust="spacingAndGlyphs">●追加接種間隔が３か月に短縮</text>
<text x="1873" y="1340" font-size="17" textLength="195" lengthAdjust="spacingAndGlyphs">●乳幼児の初回接種開始</text>
<text x="1547" y="1357" font-size="18" textLength="189" lengthAdjust="spacingAndGlyphs">●小児の3回目接種開始</text>
<rect class="vbox" x="1759" y="1353" width="435" height="25"/>
<text x="1804" y="1365" font-size="20" textLength="345" lengthAdjust="spacingAndGlyphs">県民広域接種ｾﾝﾀｰにおける2価ﾜｸﾁﾝ接種</text>
<rect class="vbox" x="1869" y="1382" width="325" height="25"/>
<text x="1879" y="1394" font-size="20" textLength="303" lengthAdjust="spacingAndGlyphs">企業等における職域接種(2価ﾜｸﾁﾝ)</text>
</g>
<g id="n-rate3">
<rect class="kbox" x="176" y="1413" width="212" height="66"/>
<text x="188" y="1427" class="b" font-size="19" textLength="180" lengthAdjust="spacingAndGlyphs">県民接種率（3回目）</text>
<text x="191" y="1447" class="b" font-size="15" textLength="182" lengthAdjust="spacingAndGlyphs">※人口に対する月末時点の</text>
<text x="206" y="1463" class="b" font-size="15">接種率</text>
<text x="413" y="1465" font-size="22">25.4%</text>
<text x="572" y="1465" font-size="22">50.0%</text>
<text x="735" y="1465" font-size="22">60.1%</text>
<text x="894" y="1465" font-size="22">63.9%</text>
<text x="1069" y="1465" font-size="22">65.2%</text>
<text x="1242" y="1465" font-size="22">66.1%</text>
<text x="1410" y="1465" font-size="22">67.0%</text>
</g>
<g id="n-rate2">
<rect class="kbox" x="1524" y="1411" width="213" height="67"/>
<text x="1526" y="1425" class="b" font-size="19" textLength="198" lengthAdjust="spacingAndGlyphs">県民接種率（2価ﾜｸﾁﾝ）</text>
<text x="1539" y="1445" class="b" font-size="15" textLength="182" lengthAdjust="spacingAndGlyphs">※人口に対する月末時点の</text>
<text x="1554" y="1462" class="b" font-size="15">接種率</text>
<text x="1762" y="1465" font-size="22">5.5%</text>
<text x="1934" y="1465" font-size="22">19.5%</text>
<text x="2095" y="1465" font-size="22">37.6%</text>
<text x="2189" y="1465" font-size="22" style="fill:#808080">6</text>
</g>
</svg>
